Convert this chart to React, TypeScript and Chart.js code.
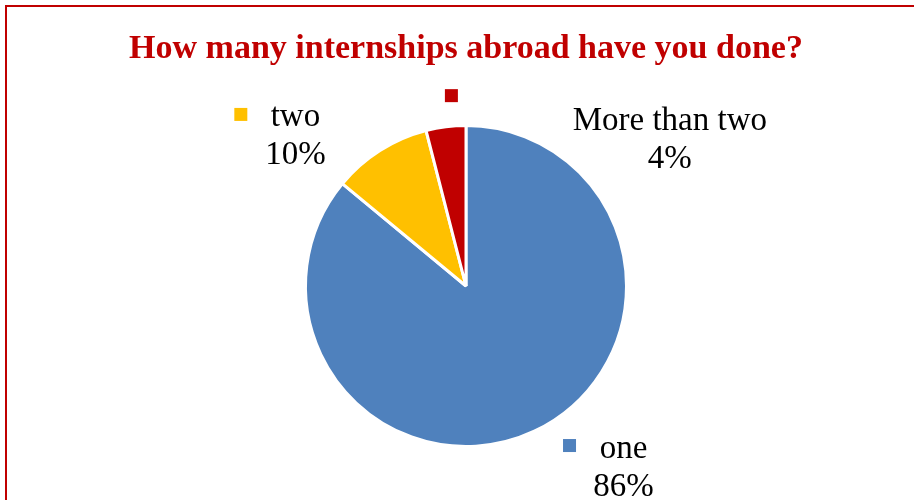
import React, { useEffect, useRef } from "react";
import { Chart, registerables } from "chart.js";

Chart.register(...registerables);

const categories = ["one", "two", "More than two"];
const values = [86, 10, 4];
const colors = ["#4F81BD", "#FFC000", "#C00000"];
const titleText = "How many internships abroad have you done?";

// label placement relative to pie centre, in units of radius
const labelLayout = [
  { tx: 0.981, ty: 1.069, kx: 0.645, ky: 0.994 },
  { tx: -1.063, ty: -0.994, kx: -1.403, ky: -1.069 },
  { tx: 1.27, ty: -0.975, kx: -0.091, ky: -1.186 },
];

const decorPlugin = {
  id: "decor",
  afterDraw(chart: any) {
    const ctx = chart.ctx as CanvasRenderingContext2D;
    ctx.save();
    // frame
    ctx.strokeStyle = "#C00000";
    ctx.lineWidth = 2;
    ctx.beginPath();
    ctx.moveTo(6, 520);
    ctx.lineTo(6, 6);
    ctx.lineTo(930, 6);
    ctx.stroke();
    // title
    ctx.fillStyle = "#C00000";
    ctx.font = "bold 34px 'Liberation Serif', serif";
    ctx.textAlign = "center";
    ctx.textBaseline = "alphabetic";
    ctx.fillText(titleText, 466, 58);
    // labels
    const meta = chart.getDatasetMeta(0);
    const total = values.reduce((a, b) => a + b, 0);
    ctx.font = "33px 'Liberation Serif', serif";
    meta.data.forEach((arc: any, i: number) => {
      const { x, y, outerRadius } = arc.getProps(["x", "y", "outerRadius"], true);
      const L = labelLayout[i];
      const kx = x + L.kx * outerRadius;
      const ky = y + L.ky * outerRadius;
      ctx.fillStyle = colors[i];
      ctx.fillRect(kx - 6.5, ky - 6.5, 13, 13);
      ctx.fillStyle = "#000000";
      ctx.textAlign = "center";
      const tx = x + L.tx * outerRadius;
      const ty = y + L.ty * outerRadius;
      ctx.fillText(categories[i], tx, ty);
      ctx.fillText(Math.round((values[i] / total) * 100) + "%", tx, ty + 38);
    });
    ctx.restore();
  },
};

export default function App() {
  const ref = useRef<HTMLCanvasElement>(null);
  useEffect(() => {
    if (!ref.current) return;
    const chart = new Chart(ref.current, {
      type: "pie",
      data: {
        labels: categories,
        datasets: [
          {
            data: values,
            backgroundColor: colors,
            borderColor: "#FFFFFF",
            borderWidth: 3,
          },
        ],
      },
      options: {
        animation: false,
        responsive: false,
        maintainAspectRatio: false,
        layout: { padding: { top: 124, bottom: 52, left: 100, right: 82 } },
        plugins: {
          legend: { display: false },
          title: { display: false },
          tooltip: { enabled: false },
        },
      },
      plugins: [decorPlugin],
    });
    return () => chart.destroy();
  }, []);
  return (
    <div style={{ position: "fixed", left: 0, top: 0, width: 914, height: 500, background: "#FFFFFF" }}>
      <canvas ref={ref} width={914} height={500} style={{ width: 914, height: 500 }} />
    </div>
  );
}
